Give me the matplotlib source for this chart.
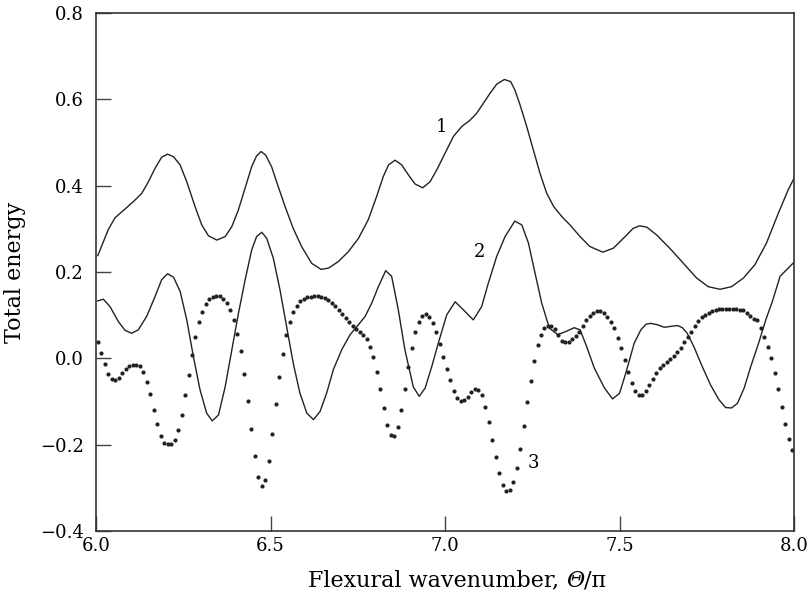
import numpy as np
import matplotlib
matplotlib.use('Agg')
import matplotlib.pyplot as plt
from matplotlib.offsetbox import TextArea, HPacker, AnchoredOffsetbox

plt.rcParams.update({'font.family': 'DejaVu Serif', 'font.size': 13})

# curve 1 (top solid line)
x1 = [6.005, 6.021, 6.035, 6.054, 6.069, 6.093, 6.112, 6.131, 6.15, 6.169, 6.188,
      6.205, 6.222, 6.241, 6.26, 6.284, 6.303, 6.322, 6.346, 6.37, 6.389, 6.408,
      6.427, 6.446, 6.46, 6.473, 6.486, 6.503, 6.522, 6.542, 6.565, 6.589, 6.618,
      6.645, 6.666, 6.694, 6.723, 6.752, 6.78, 6.804, 6.823, 6.838, 6.857, 6.876,
      6.895, 6.914, 6.936, 6.957, 6.976, 7.0, 7.024, 7.048, 7.072, 7.091, 7.11,
      7.129, 7.148, 7.17, 7.188, 7.2, 7.215, 7.234, 7.253, 7.272, 7.291, 7.311,
      7.335, 7.358, 7.387, 7.415, 7.452, 7.482, 7.511, 7.539, 7.557, 7.578, 7.606,
      7.644, 7.682, 7.721, 7.754, 7.788, 7.821, 7.855, 7.888, 7.921, 7.955, 7.983, 8.0]
y1 = [0.238, 0.270, 0.298, 0.325, 0.336, 0.353, 0.367, 0.382, 0.409, 0.44, 0.466,
      0.473, 0.467, 0.448, 0.409, 0.351, 0.309, 0.284, 0.274, 0.282, 0.305, 0.344,
      0.394, 0.444, 0.469, 0.479, 0.471, 0.444, 0.398, 0.351, 0.301, 0.259, 0.220,
      0.206, 0.209, 0.224, 0.247, 0.278, 0.321, 0.375, 0.421, 0.448, 0.459, 0.448,
      0.425, 0.404, 0.395, 0.409, 0.436, 0.475, 0.514, 0.537, 0.552, 0.568, 0.591,
      0.614, 0.635, 0.646, 0.641, 0.622, 0.587, 0.537, 0.483, 0.429, 0.383, 0.352,
      0.328, 0.309, 0.282, 0.259, 0.246, 0.255, 0.278, 0.301, 0.307, 0.304, 0.286,
      0.255, 0.221, 0.186, 0.166, 0.160, 0.166, 0.186, 0.217, 0.267, 0.336, 0.390, 0.417]

# curve 2 (middle solid line)
x2 = [6.005, 6.021, 6.04, 6.064, 6.083, 6.102, 6.121, 6.145, 6.169, 6.188, 6.205,
      6.222, 6.241, 6.26, 6.279, 6.298, 6.317, 6.333, 6.351, 6.37, 6.389, 6.408,
      6.427, 6.446, 6.46, 6.475, 6.489, 6.508, 6.527, 6.546, 6.565, 6.584, 6.604,
      6.623, 6.642, 6.661, 6.68, 6.704, 6.728, 6.752, 6.771, 6.79, 6.809, 6.83,
      6.847, 6.866, 6.885, 6.909, 6.926, 6.943, 6.962, 6.981, 7.005, 7.029, 7.053,
      7.081, 7.105, 7.124, 7.148, 7.172, 7.2, 7.22, 7.239, 7.258, 7.277, 7.299,
      7.323, 7.346, 7.37, 7.387, 7.404, 7.428, 7.457, 7.48, 7.5, 7.518, 7.542,
      7.561, 7.576, 7.589, 7.608, 7.628, 7.647, 7.666, 7.68, 7.694, 7.713, 7.737,
      7.761, 7.785, 7.804, 7.821, 7.838, 7.857, 7.876, 7.9, 7.919, 7.938, 7.96, 7.998]
y2 = [0.133, 0.137, 0.120, 0.085, 0.065, 0.058, 0.066, 0.097, 0.143, 0.182, 0.196,
      0.188, 0.155, 0.089, 0.004, -0.073, -0.127, -0.145, -0.131, -0.066, 0.019, 0.104,
      0.181, 0.251, 0.282, 0.292, 0.278, 0.232, 0.159, 0.074, -0.011, -0.080, -0.127,
      -0.142, -0.123, -0.080, -0.026, 0.020, 0.055, 0.078, 0.097, 0.128, 0.166, 0.203,
      0.190, 0.113, 0.020, -0.066, -0.088, -0.069, -0.019, 0.036, 0.101, 0.131, 0.112,
      0.089, 0.120, 0.174, 0.236, 0.282, 0.318, 0.309, 0.267, 0.197, 0.128, 0.070,
      0.055, 0.062, 0.071, 0.066, 0.031, -0.023, -0.069, -0.094, -0.081, -0.034, 0.035,
      0.066, 0.079, 0.081, 0.078, 0.072, 0.074, 0.076, 0.071, 0.058, 0.027, -0.019,
      -0.062, -0.096, -0.114, -0.115, -0.104, -0.069, -0.019, 0.039, 0.089, 0.132, 0.190, 0.221]

# curve 3 (dotted), one dot every 0.01 starting at 6.005
x3 = np.arange(200) * 0.01 + 6.005
y3 = [0.039, 0.013, -0.014, -0.036, -0.048, -0.050, -0.045, -0.034, -0.025, -0.018,
      -0.015, -0.015, -0.018, -0.032, -0.055, -0.083, -0.119, -0.152, -0.179, -0.196,
      -0.199, -0.199, -0.189, -0.166, -0.131, -0.086, -0.038, 0.008, 0.049, 0.084,
      0.108, 0.126, 0.138, 0.142, 0.145, 0.145, 0.138, 0.128, 0.112, 0.089,
      0.057, 0.016, -0.036, -0.098, -0.164, -0.227, -0.275, -0.295, -0.281, -0.238,
      -0.175, -0.105, -0.043, 0.011, 0.054, 0.084, 0.107, 0.122, 0.132, 0.138,
      0.141, 0.143, 0.145, 0.144, 0.142, 0.139, 0.136, 0.129, 0.122, 0.112,
      0.103, 0.094, 0.084, 0.074, 0.067, 0.062, 0.054, 0.044, 0.027, 0.003,
      -0.032, -0.071, -0.116, -0.154, -0.177, -0.180, -0.160, -0.119, -0.071, -0.021,
      0.025, 0.061, 0.085, 0.098, 0.102, 0.096, 0.081, 0.061, 0.034, 0.004,
      -0.024, -0.051, -0.075, -0.091, -0.099, -0.097, -0.089, -0.077, -0.070, -0.073,
      -0.086, -0.112, -0.148, -0.188, -0.229, -0.266, -0.293, -0.307, -0.306, -0.287,
      -0.255, -0.210, -0.157, -0.102, -0.052, -0.006, 0.030, 0.054, 0.071, 0.075,
      0.075, 0.068, 0.054, 0.040, 0.037, 0.037, 0.045, 0.051, 0.062, 0.074,
      0.088, 0.098, 0.106, 0.109, 0.109, 0.105, 0.096, 0.085, 0.070, 0.048,
      0.023, -0.004, -0.032, -0.056, -0.075, -0.084, -0.084, -0.075, -0.061, -0.048,
      -0.034, -0.023, -0.015, -0.008, -0.002, 0.006, 0.014, 0.024, 0.037, 0.050,
      0.062, 0.076, 0.087, 0.095, 0.101, 0.105, 0.110, 0.112, 0.114, 0.115,
      0.115, 0.115, 0.115, 0.115, 0.112, 0.111, 0.105, 0.099, 0.090, 0.088,
      0.070, 0.050, 0.027, 0.000, -0.033, -0.072, -0.112, -0.152, -0.186, -0.212]

labels = ['1', '2', '3']
label_pos = [(6.99, 0.537), (7.10, 0.247), (7.253, -0.243)]

fig = plt.figure(figsize=(8.09, 5.98), dpi=100)
ax = fig.add_axes([0.1187, 0.112, 0.8628, 0.8663])

ax.plot(x1, y1, color='#222222', lw=1.0)
ax.plot(x2, y2, color='#222222', lw=1.0)
ax.plot(x3, y3, ls='none', marker='o', ms=3.0, color='#222222', mec='none')

for t, (lx, ly) in zip(labels, label_pos):
    ax.text(lx, ly, t, ha='center', va='center', fontsize=13)

ax.set_xlim(6.0, 8.0)
ax.set_ylim(-0.4, 0.8)
ax.set_xticks([6.0, 6.5, 7.0, 7.5, 8.0])
ax.set_yticks([-0.4, -0.2, 0.0, 0.2, 0.4, 0.6, 0.8])
ax.set_xticklabels(['6.0', '6.5', '7.0', '7.5', '8.0'])
ax.set_yticklabels(['\u22120.4', '\u22120.2', '0.0', '0.2', '0.4', '0.6', '0.8'])
ax.tick_params(direction='in', length=11, width=1.0, color='#444444')
ax.tick_params(axis='y', pad=9)
ax.tick_params(axis='x', pad=4)
for s in ax.spines.values():
    s.set_linewidth(1.2)
    s.set_color('#333333')

# x label with an italic Theta, built from pieces
parts = [TextArea('Flexural wavenumber, ', textprops=dict(fontsize=16)),
         TextArea('\u0398', textprops=dict(fontsize=16, style='italic')),
         TextArea('/\u03c0', textprops=dict(fontsize=16))]
xlab = HPacker(children=parts, align='baseline', pad=0, sep=0)
ab = AnchoredOffsetbox(loc='upper center', child=xlab, frameon=False, pad=0,
                       borderpad=0, bbox_to_anchor=(0.517, -0.075),
                       bbox_transform=ax.transAxes)
ax.add_artist(ab)
ax.set_ylabel('Total energy', fontsize=16, labelpad=10)

fig.savefig('out.png', dpi=100)
